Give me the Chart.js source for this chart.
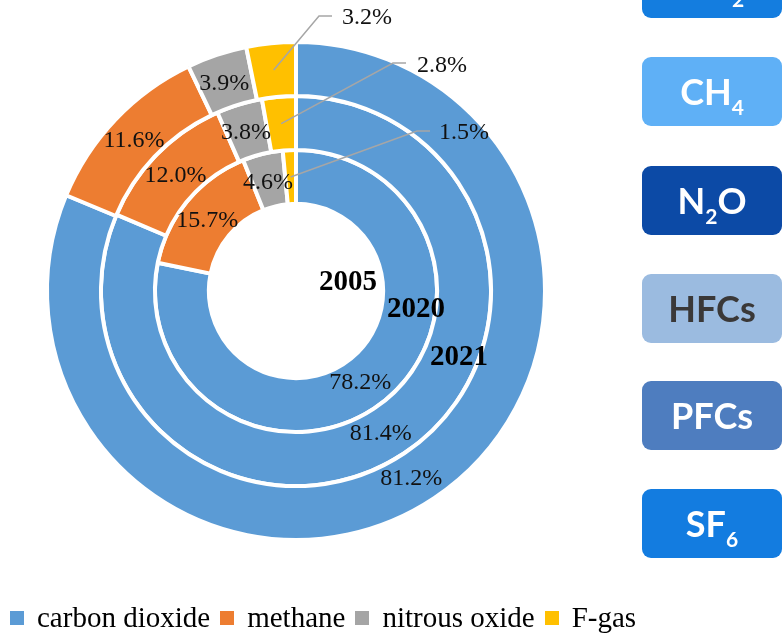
<!DOCTYPE html>
<html lang="en">
<head>
    <meta charset="UTF-8">
    <title>Greenhouse gas shares</title>
    <script src="https://cdn.jsdelivr.net/npm/chart.js"></script>
    <style>
        body {
            margin: 0;
            width: 783px;
            height: 635px;
            overflow: hidden;
            background: #fff;
            position: relative;
        }
        .chart-wrap {
            position: absolute;
            left: 0;
            top: 0;
            width: 645px;
            height: 635px;
        }
        .gas-box {
            position: absolute;
            left: 642px;
            width: 140px;
            height: 69px;
            border-radius: 9px;
            color: #fff;
            font-family: Lato, "Open Sans", sans-serif;
            font-weight: 700;
            font-size: 36px;
            text-align: center;
            line-height: 69px;
        }
        .gas-box sub {
            font-size: 21px;
            vertical-align: baseline;
            position: relative;
            top: 10px;
            line-height: 0;
        }
        .co2  { top: -51px; background: #147ddf; }
        .ch4  { top: 57px;  background: #5fb0f6; }
        .n2o  { top: 166px; background: #0c4aa6; }
        .hfcs { top: 274px; background: #9bbbe0; color: #3a3838; }
        .pfcs { top: 381px; background: #4e7dbf; }
        .sf6  { top: 489px; background: #137ce0; }

        #legend {
            position: absolute;
            left: 10px;
            top: 601px;
            display: flex;
            align-items: center;
            font-family: "Liberation Serif", serif;
            font-size: 29px;
            color: #000;
            white-space: nowrap;
        }
        #legend .item { display: flex; align-items: center; margin-right: 10px; }
        #legend .swatch { width: 14px; height: 14px; margin-right: 13px; }
    </style>
</head>
<body>
    <div class="chart-wrap">
        <canvas id="ghgChart"></canvas>
    </div>
    <div id="legend"></div>

    <div class="gas-box co2">CO<sub>2</sub></div>
    <div class="gas-box ch4">CH<sub>4</sub></div>
    <div class="gas-box n2o">N<sub>2</sub>O</div>
    <div class="gas-box hfcs">HFCs</div>
    <div class="gas-box pfcs">PFCs</div>
    <div class="gas-box sf6">SF<sub>6</sub></div>

    <script>
        // rings from outside to inside
        const years = ['2021', '2020', '2005'];
        const gases = ['carbon dioxide', 'methane', 'nitrous oxide', 'F-gas'];
        const share2021 = [81.2, 11.6, 3.9, 3.2];
        const share2020 = [81.4, 12.0, 3.8, 2.8];
        const share2005 = [78.2, 15.7, 4.6, 1.5];

        const gasColors = ['#5b9bd5', '#ed7d31', '#a5a5a5', '#ffc000'];

        // leader line elbow / text spot for the small F-gas slices, relative to centre
        const leaderSpots = [
            { ex: 23, ey: -275, tx: 46, ty: -274 },
            { ex: 97, ey: -228, tx: 121, ty: -226 },
            { ex: 121, ey: -160, tx: 143, ty: -159 }
        ];
        // year label offsets from centre
        const yearSpots = [[163, 64], [120, 16], [52, -11]];
        const dy = 3; // canvas 'middle' sits a bit high for these fonts

        const ringLabels = {
            id: 'ringLabels',
            afterDatasetsDraw(chart) {
                const ctx = chart.ctx;
                const first = chart.getDatasetMeta(0).data[0];
                const cx = first.x, cy = first.y;
                ctx.save();
                ctx.textBaseline = 'middle';
                chart.data.datasets.forEach((ds, di) => {
                    const meta = chart.getDatasetMeta(di);
                    meta.data.forEach((arc, i) => {
                        const txt = ds.data[i].toFixed(1) + '%';
                        const p = arc.tooltipPosition();
                        ctx.font = '24px "Liberation Serif"';
                        ctx.fillStyle = '#111';
                        if (i === 3) {
                            const s = leaderSpots[di];
                            ctx.strokeStyle = '#a6a6a6';
                            ctx.lineWidth = 1.5;
                            ctx.beginPath();
                            ctx.moveTo(p.x, p.y);
                            ctx.lineTo(cx + s.ex, cy + s.ey);
                            ctx.lineTo(cx + s.ex + 13, cy + s.ey);
                            ctx.stroke();
                            ctx.textAlign = 'left';
                            ctx.fillText(txt, cx + s.tx, cy + s.ty + 1);
                        } else {
                            ctx.textAlign = 'center';
                            // CO2 labels sit a little to the left in the original
                            const shift = i === 0 ? -8 : -1;
                            ctx.fillText(txt, p.x + shift, p.y + dy);
                        }
                    });
                    ctx.font = 'bold 29px "Liberation Serif"';
                    ctx.fillStyle = '#000';
                    ctx.textAlign = 'center';
                    ctx.fillText(ds.label, cx + yearSpots[di][0], cy + yearSpots[di][1] + dy);
                });
                ctx.restore();
            }
        };

        const ctx = document.getElementById('ghgChart').getContext('2d');
        const ghgChart = new Chart(ctx, {
            type: 'doughnut',
            data: {
                labels: gases,
                datasets: [
                    { label: years[0], data: share2021, backgroundColor: gasColors, borderColor: '#fff', borderWidth: 4 },
                    { label: years[1], data: share2020, backgroundColor: gasColors, borderColor: '#fff', borderWidth: 4 },
                    { label: years[2], data: share2005, backgroundColor: gasColors, borderColor: '#fff', borderWidth: 4 }
                ]
            },
            options: {
                responsive: true,
                maintainAspectRatio: false,
                animation: false,
                cutout: '35%',
                layout: { padding: { left: 45, right: 98, top: 0, bottom: 53 } },
                plugins: {
                    tooltip: { enabled: false },
                    legend: { display: false }
                }
            },
            plugins: [ringLabels]
        });

        // legend built from the chart's own labels and colours
        const legendEl = document.getElementById('legend');
        ghgChart.data.labels.forEach((name, i) => {
            const item = document.createElement('span');
            item.className = 'item';
            const sw = document.createElement('span');
            sw.className = 'swatch';
            sw.style.background = ghgChart.data.datasets[0].backgroundColor[i];
            item.appendChild(sw);
            item.appendChild(document.createTextNode(name));
            legendEl.appendChild(item);
        });
    </script>
</body>
</html>
